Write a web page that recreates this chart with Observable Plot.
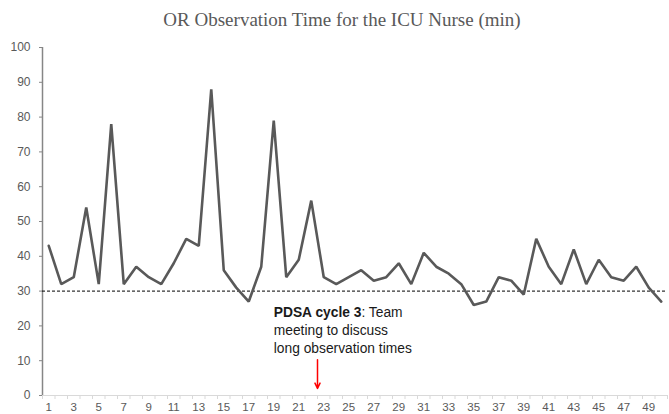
<!DOCTYPE html>
<html>
<head>
<meta charset="utf-8">
<script src="https://cdn.jsdelivr.net/npm/d3@7"></script>
<script src="https://cdn.jsdelivr.net/npm/@observablehq/plot@0.6"></script>
<style>
  body { margin: 0; background: #fff; width: 669px; height: 414px; overflow: hidden; }
  #title { height: 40px; line-height: 40px; font-family: "Liberation Serif", "DejaVu Serif", serif; font-size: 19px; color: #595959; text-align: center; padding-left: 15px; box-sizing: border-box; width: 669px; }
  #chart svg [aria-label^="x-axis"] path, #chart svg [aria-label^="x-axis"] line { stroke: #d9d9d9; }
  #chart svg [aria-label^="y-axis"] path, #chart svg [aria-label^="y-axis"] line { stroke: #868686; }
</style>
</head>
<body>
<div id="title">OR Observation Time for the ICU Nurse (min)</div>
<div id="chart"></div>
<script>
const sampleIndex = d3.range(1, 51);
const observationMin = [43,32,34,54,32,78,32,37,34,32,38,45,43,88,36,31,27,37,79,34,39,56,34,32,34,36,33,34,38,32,41,37,35,32,26,27,34,33,29,45,37,32,42,32,39,34,33,37,31,27];
const goalMin = 30;
const xTickLabels = d3.range(1, 51, 2);
const xTickEdges = d3.range(0.5, 51, 1);
const yTicks = d3.range(0, 101, 10);
const annotationText = "PDSA cycle 3: Team\nmeeting to discuss\nlong observation times";
const annotationX = 19;
const annotationY = 26.2;
const arrowX = 22.5;
const arrowFrom = 10.3;
const arrowTo = 2;

const data = sampleIndex.map((x, i) => ({x, y: observationMin[i]}));

const chart = Plot.plot({
  width: 669,
  height: 374,
  marginTop: 7,
  marginBottom: 19,
  marginLeft: 42,
  marginRight: 2,
  style: {fontFamily: "'Liberation Sans', Arial, sans-serif", fontSize: "12px", background: "white", color: "#595959", overflow: "visible"},
  x: {domain: [0.5, 50.5], ticks: xTickEdges, tickFormat: () => "", tickSize: 4, label: null},
  y: {domain: [0, 100], ticks: yTicks, tickSize: 3, tickPadding: 9, label: null},
  marks: [
    Plot.ruleY([0], {stroke: "#d9d9d9", strokeWidth: 1}),
    Plot.ruleX([0.5], {stroke: "#868686", strokeWidth: 1.5}),
    Plot.text(xTickLabels, {x: d => d, y: 0, dy: 12, text: d => String(d), fill: "#595959", fontSize: 11.5}),
    Plot.ruleY([goalMin], {stroke: "#000", strokeWidth: 1, strokeDasharray: "3,2"}),
    Plot.line(data, {x: "x", y: "y", stroke: "#595959", strokeWidth: 2.6, strokeLinejoin: "miter"}),
    Plot.text([annotationText], {x: annotationX, y: annotationY, text: d => d, textAnchor: "start", lineAnchor: "top", lineHeight: 1.3, fontSize: 13.8, fill: "#1a1a1a"}),
    Plot.arrow([{x: arrowX, y1: arrowFrom, y2: arrowTo}], {x1: "x", x2: "x", y1: "y1", y2: "y2", stroke: "#ff0000", strokeWidth: 1.5, headLength: 6, headAngle: 50})
  ]
});

// Bold the first part of the annotation's first line
chart.querySelectorAll("tspan, text").forEach(el => {
  if (el.childElementCount === 0 && el.textContent === "PDSA cycle 3: Team") {
    el.textContent = "";
    const b = document.createElementNS("http://www.w3.org/2000/svg", "tspan");
    b.setAttribute("font-weight", "bold");
    b.textContent = "PDSA cycle 3";
    el.appendChild(b);
    el.appendChild(document.createTextNode(": Team"));
  }
});

document.getElementById("chart").appendChild(chart);
</script>
</body>
</html>
